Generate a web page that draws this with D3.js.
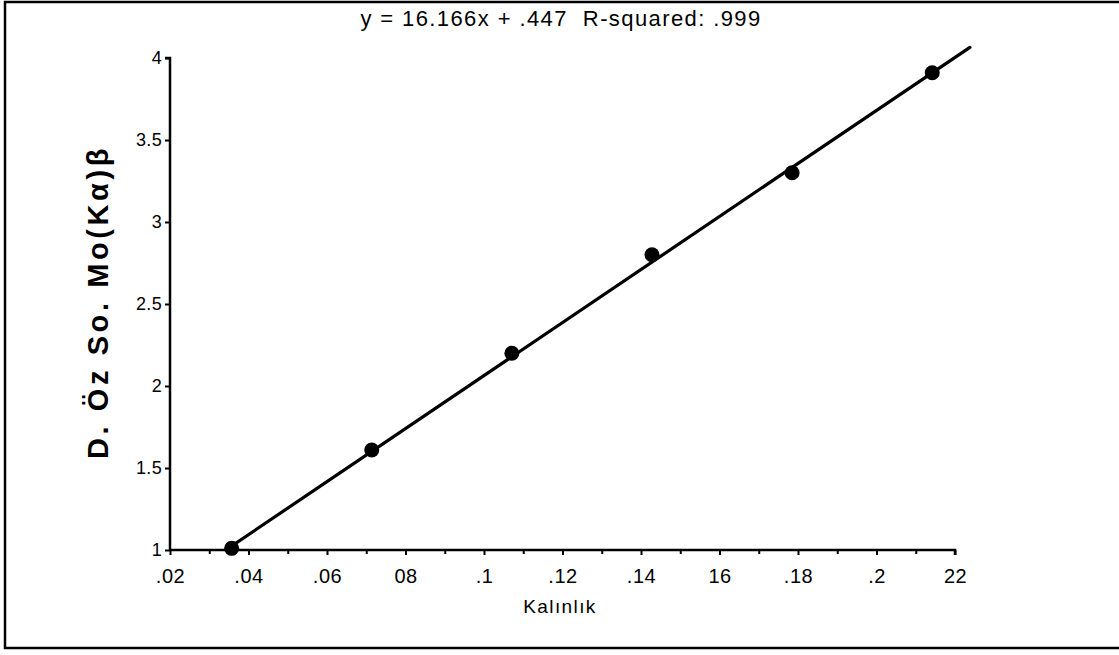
<!DOCTYPE html>
<html>
<head>
<meta charset="utf-8">
<script src="https://cdn.jsdelivr.net/npm/d3@7"></script>
<style>
  html, body { margin: 0; padding: 0; background: #fff; }
  svg { display: block; }
  text { font-family: "Liberation Sans", Arial, sans-serif; fill: #000; white-space: pre; }
</style>
</head>
<body>
<svg id="chart" width="1119" height="655"></svg>
<script>
// ---- data ----
const thickness = [0.0357, 0.0714, 0.1071, 0.1428, 0.1785, 0.2142];
const intensity = [1.01, 1.61, 2.20, 2.80, 3.30, 3.91];
const xTickValues = [0.02, 0.04, 0.06, 0.08, 0.10, 0.12, 0.14, 0.16, 0.18, 0.20, 0.22];
const xTickLabels = [".02", ".04", ".06", "08", ".1", ".12", ".14", "16", ".18", ".2", "22"];
const xMinorTicks = [0.03, 0.05, 0.07, 0.09, 0.11, 0.13, 0.15, 0.17, 0.19, 0.21];
const yTickValues = [1, 1.5, 2, 2.5, 3, 3.5, 4];
const yTickLabels = ["1", "1.5", "2", "2.5", "3", "3.5", "4"];
const fitSlope = 16.166;
const fitIntercept = 0.447;
const fitRange = [0.0353, 0.2238];
const titleText = "y = 16.166x + .447  R-squared: .999";
const xTitle = "Kalınlık";
const yTitle = "D. Öz So. Mo(Kα)β";

// ---- layout ----
const svg = d3.select("#chart");
const W = 1119, H = 655;
const x = d3.scaleLinear().domain([0.02, 0.22]).range([170, 955]);
const y = d3.scaleLinear().domain([1, 4]).range([550, 58]);

// outer frame (right edge falls just outside the picture, as in the scan)
svg.append("rect")
  .attr("x", 5).attr("y", 2).attr("width", W).attr("height", 646)
  .attr("fill", "none").attr("stroke", "#000").attr("stroke-width", 2.5);

// title
svg.append("text")
  .attr("x", 561).attr("y", 26)
  .attr("text-anchor", "middle")
  .style("font-size", "22px")
  .style("letter-spacing", "1.4px")
  .text(titleText);

// x axis
const xAxis = d3.axisBottom(x)
  .tickValues(xTickValues)
  .tickFormat((d, i) => xTickLabels[i])
  .tickSize(5).tickPadding(14);
const gx = svg.append("g").attr("transform", `translate(0,${y(1)})`).call(xAxis);
gx.select(".domain").attr("stroke-width", 2.5).attr("d", `M${x(0.02)},0H${x(0.22)}V5`);
gx.selectAll(".tick line").attr("stroke-width", 2);
gx.selectAll(".tick text")
  .style("font-size", "20px")
  .style("font-family", "'Liberation Sans', Arial, sans-serif")
  .style("letter-spacing", "0.5px");

const xMinor = d3.axisBottom(x).tickValues(xMinorTicks).tickSize(4).tickFormat("");
const gxm = svg.append("g").attr("transform", `translate(0,${y(1)})`).call(xMinor);
gxm.select(".domain").remove();
gxm.selectAll(".tick line").attr("stroke-width", 2);

// y axis
const yAxis = d3.axisLeft(y)
  .tickValues(yTickValues)
  .tickFormat((d, i) => yTickLabels[i])
  .tickSize(5).tickPadding(3);
const gy = svg.append("g").attr("transform", `translate(${x(0.02)},0)`).call(yAxis);
gy.select(".domain").attr("stroke-width", 2.5).attr("d", `M-5,${y(4)}H0V${y(1)}`);
gy.selectAll(".tick line").attr("stroke-width", 2);
gy.selectAll(".tick text")
  .style("font-size", "18px")
  .style("font-family", "'Liberation Sans', Arial, sans-serif")
  .style("letter-spacing", "0.3px");

// axis titles
svg.append("text")
  .attr("x", 560).attr("y", 613)
  .attr("text-anchor", "middle")
  .style("font-size", "19px")
  .style("letter-spacing", "1.4px")
  .text(xTitle);

svg.append("text")
  .attr("transform", `translate(108,302) rotate(-90)`)
  .attr("text-anchor", "middle")
  .style("font-size", "29px")
  .style("font-weight", "bold")
  .style("letter-spacing", "3.6px")
  .text(yTitle);

// regression line
const line = d3.line().x(d => x(d)).y(d => y(fitSlope * d + fitIntercept));
svg.append("path")
  .datum(fitRange)
  .attr("d", line)
  .attr("fill", "none")
  .attr("stroke", "#000")
  .attr("stroke-width", 3.2)
  .attr("stroke-linecap", "round");

// points
svg.append("g").selectAll("circle")
  .data(thickness)
  .join("circle")
  .attr("cx", d => x(d))
  .attr("cy", (d, i) => y(intensity[i]))
  .attr("r", 7.5)
  .attr("fill", "#000");
</script>
</body>
</html>
